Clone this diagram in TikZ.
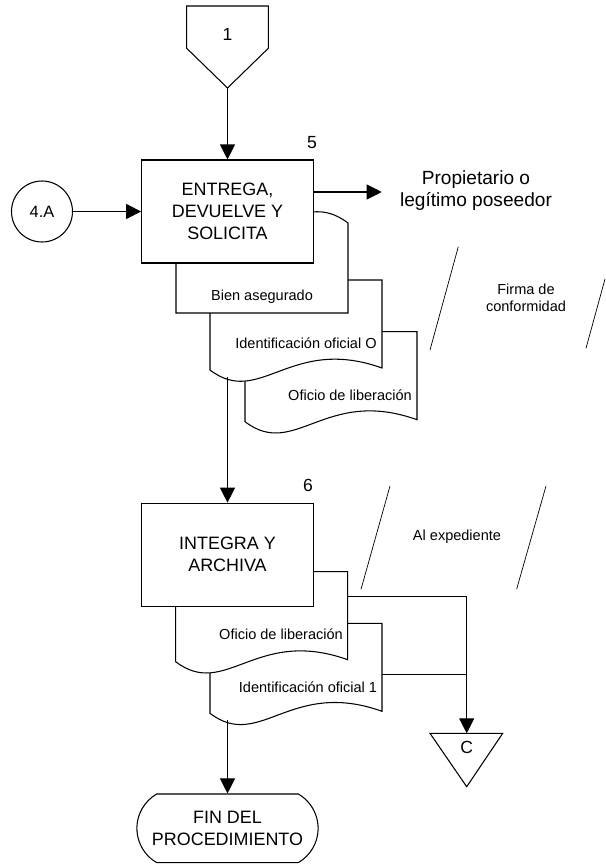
\documentclass[tikz,border=0pt]{standalone}
\usepackage{fontspec}
\setmainfont{Liberation Sans}
\usepackage{tikz}
\usetikzlibrary{shapes}
\usetikzlibrary{shapes.misc}
\usetikzlibrary{arrows.meta}
\tikzstyle{linea} = [line width=0.9pt]
\tikzstyle{papel} = [linea,fill=white,draw=black]
\tikzstyle{proceso} = [rectangle,fill=white,draw=black,line width=0.9pt,
minimum width=5.15cm, minimum height=3.09cm, align=center,
font=\fontsize{15.3}{18.7}\selectfont]
\tikzstyle{conector} = [circle,fill=white,draw=black,line width=0.9pt,
minimum size=1.83cm, inner sep=0pt, font=\fontsize{14}{14}\selectfont]
\tikzstyle{cierre} = [proceso,rounded rectangle,rounded rectangle arc length=120,
minimum width=5.67cm, minimum height=2.06cm]
\tikzstyle{paso} = [font=\fontsize{15}{15}\selectfont, inner sep=0pt]
\tikzstyle{nota} = [align=center, inner sep=0pt, font=\fontsize{12.4}{14.3}\selectfont]
\tikzstyle{doctexto} = [nota]
\tikzstyle{destino} = [align=center, inner sep=0pt, font=\fontsize{16.3}{18.7}\selectfont]
\tikzstyle{barra} = [line width=0.6pt]
\newcommand{\flecha}[3][]{ %
  % arrow between two named points
  \draw[linea, -{Triangle[length=4.5mm,width=4.5mm]}, #1] (#2) -- (#3) ;%
}
\newcommand{\hoja}[2][]{ %
  % one sheet of a document symbol, top left corner at #2
  \begin{scope}[shift={(#2)}, #1]
    \draw[papel] (0,0) -- (172,0) -- (172,88)
      .. controls (80,55) and (50,128) .. (0,90) -- cycle ;
  \end{scope}
}

\begin{document}
\begin{tikzpicture}[x=0.03cm, y=-0.03cm]
  \useasboundingbox (0,0) rectangle (605,865);
  % connector 1
  \draw[papel] (186.7,6) -- (268.3,6) -- (268.3,48.3) -- (227.5,88)
    -- (186.7,48.3) -- cycle;
  \node[paso](uno) at (227.5,34) {1};
  \coordinate (uno-pico) at (227.5,88);
  % step 5
  \hoja{245,331.7}
  \node[doctexto](oficio0) at (350,395) {Oficio de liberación};
  \hoja{210,280}
  \node[doctexto](ident0) at (306,343) {Identificación oficial O};
  \hoja[rotate=180]{348,313}
  \node[doctexto](bien) at (262,297) {Bien asegurado};
  \node[proceso](entrega) at (227.5,211.5) {ENTREGA,\\DEVUELVE Y\\SOLICITA};
  \node[paso](num5) at (312,143) {5};
  \node[conector](cuatroA) at (42,211.5) {4.A};
  \node[destino](propietario) at (476,191) {Propietario o\\legítimo poseedor};
  \coordinate (sal5) at (313.3,192);
  \coordinate (prop) at (381.7,192);
  \node[nota](firma) at (526,298) {Firma de\\conformidad};
  \draw[barra] (458.3,246.7) -- (430,350);
  \draw[barra] (605,279) -- (586,348.3);
  \coordinate (ident0-fondo) at (227.5,377);
  % step 6
  \hoja{210,623.3}
  \node[doctexto](ident1) at (308,687) {Identificación oficial 1};
  \hoja{175.7,571.7}
  \node[doctexto](oficio1) at (281,634) {Oficio de liberación};
  \node[proceso](integra) at (227.5,554.7) {INTEGRA Y\\ARCHIVA};
  \node[paso](num6) at (308,485) {6};
  \node[nota](expediente) at (457,537) {Al expediente};
  \draw[barra] (390,486) -- (361,589.3);
  \draw[barra] (546,486) -- (516.7,589);
  \coordinate (oficio1-sal) at (347.7,596.7);
  \coordinate (ident1-sal) at (381.7,674.3);
  \coordinate (ident1-fondo) at (227.5,720);
  % archive C
  \draw[papel] (430,733.3) -- (502.7,733.3) -- (466.7,786.7) -- cycle;
  \node[paso](ce) at (466.7,747) {C};
  \coordinate (ce-top) at (466.7,733.3);
  \coordinate (union) at (466.7,674.3);
  % end
  \node[cierre](fin) at (227.5,828.3) {FIN DEL\\PROCEDIMIENTO};
  % connectors
  \flecha{uno-pico}{entrega.north};
  \flecha{cuatroA.east}{entrega.west};
  \flecha{sal5}{prop};
  \flecha{ident0-fondo}{integra.north};
  \draw[linea, -{Triangle[length=4.5mm,width=4.5mm]}] (oficio1-sal) -| (ce-top);
  \draw[linea] (ident1-sal) -- (union);
  \flecha{ident1-fondo}{fin.north};
\end{tikzpicture}
\end{document}
